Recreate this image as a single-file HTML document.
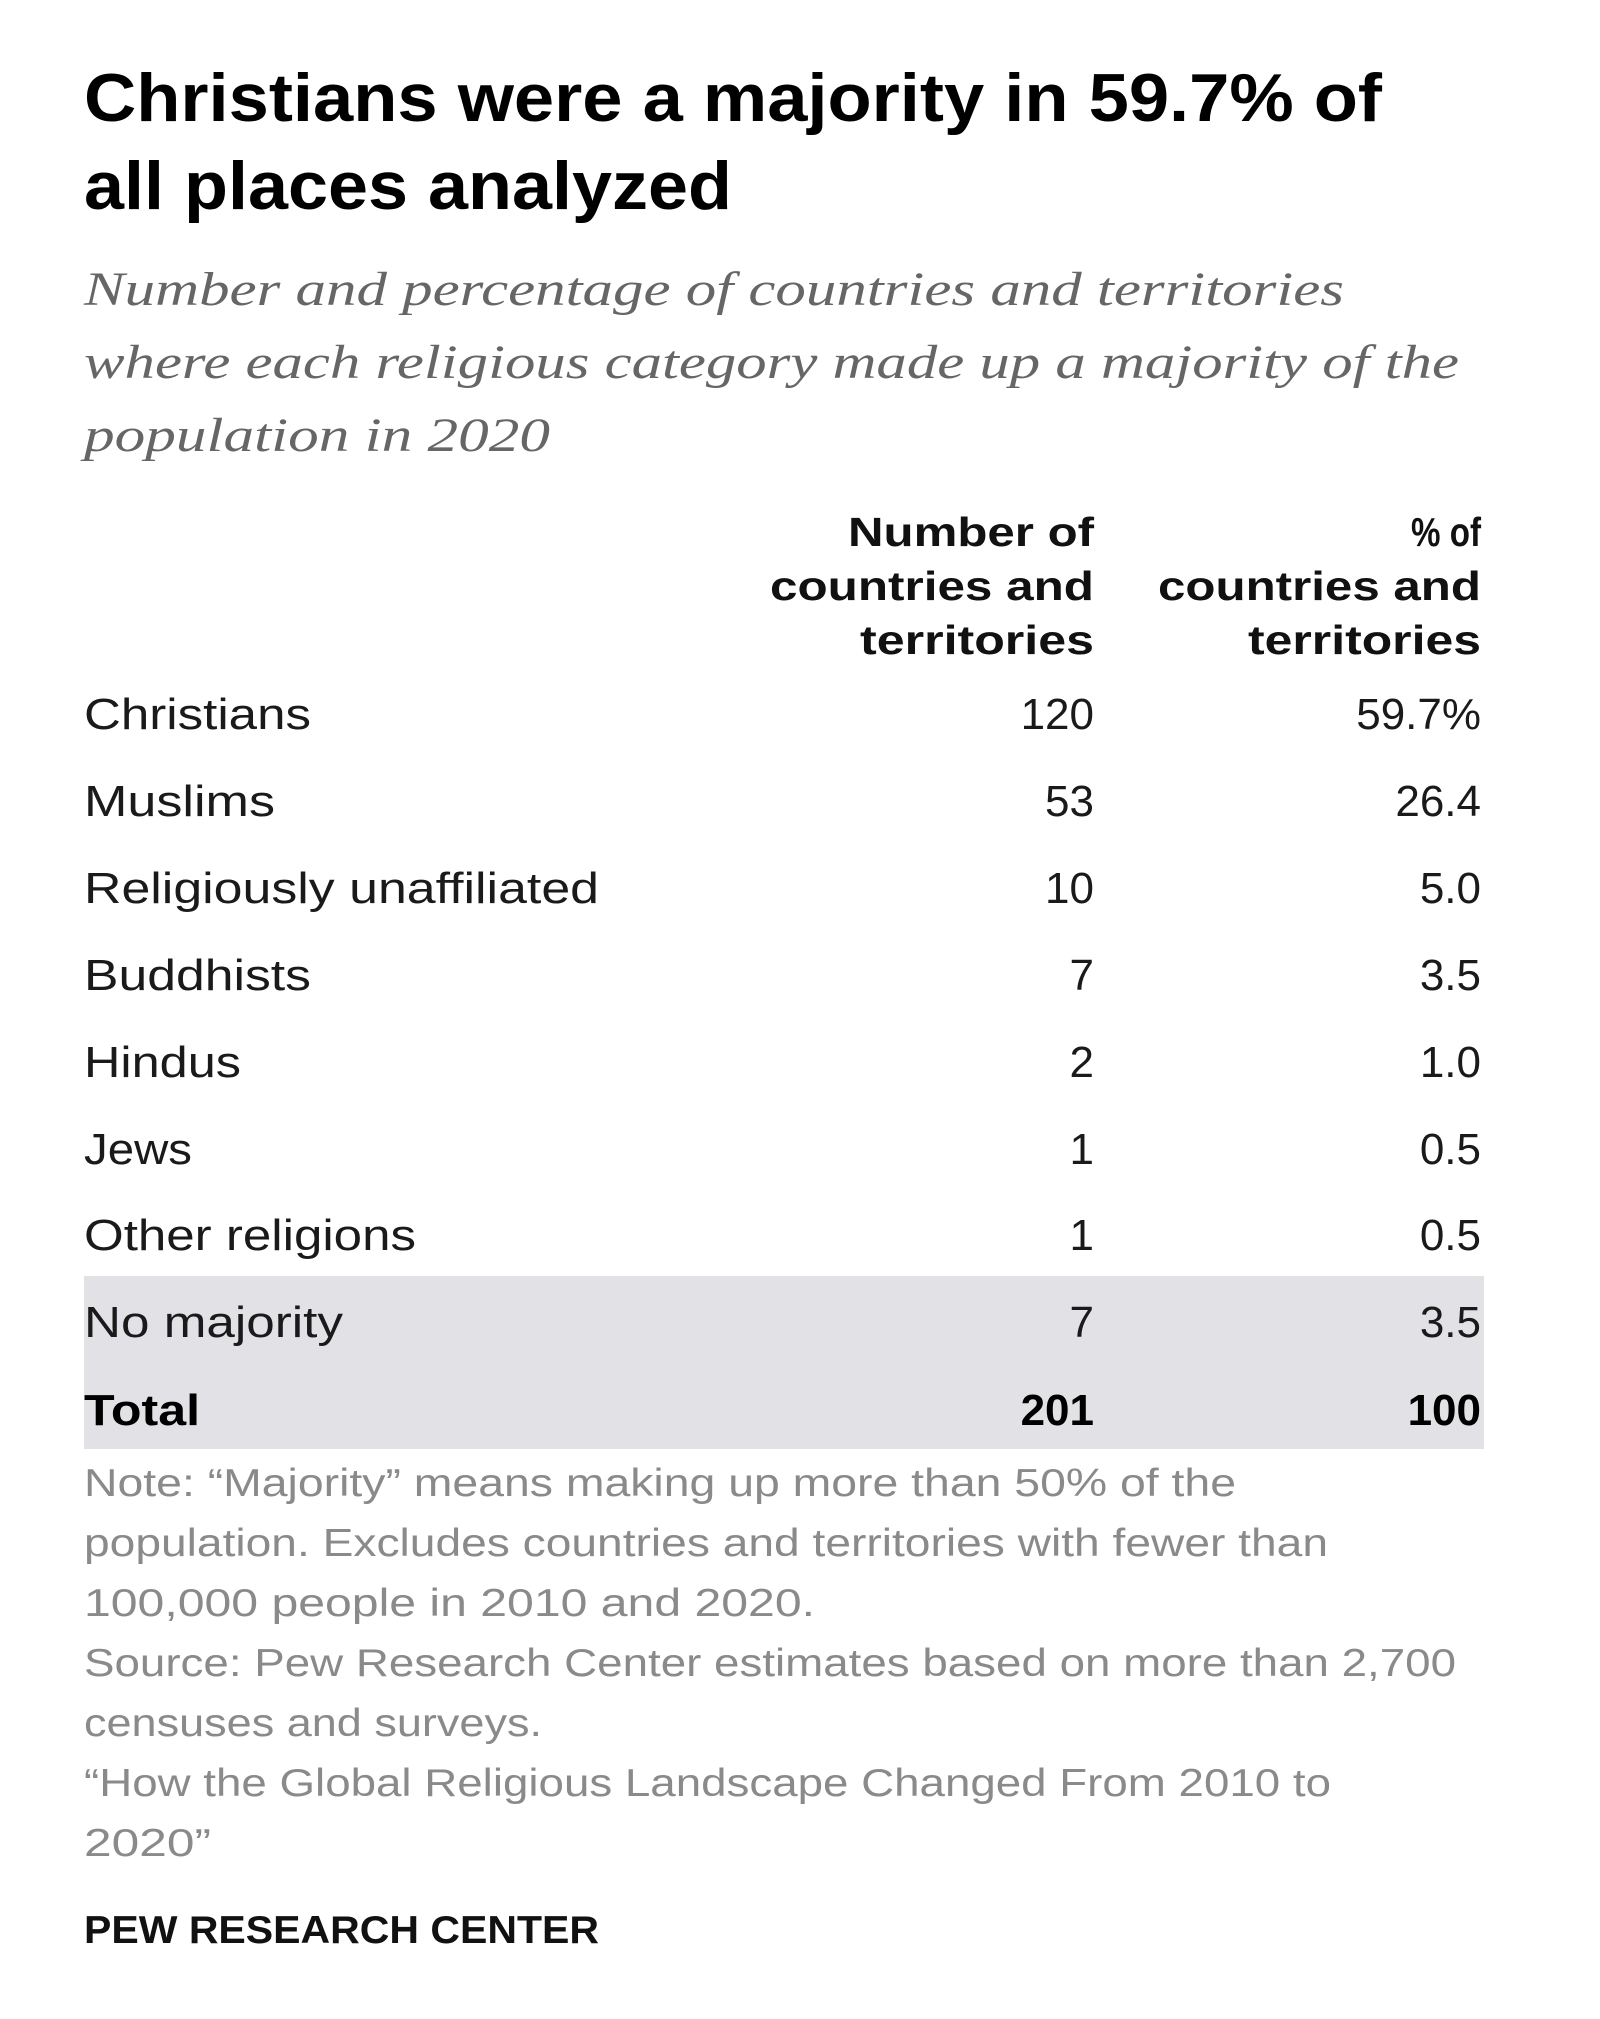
<!DOCTYPE html>
<html><head><meta charset="utf-8"><style>
html,body{margin:0;padding:0;background:#fff;}
svg{display:block}
.t{font-family:"Liberation Sans",sans-serif;font-weight:bold;font-size:68px;fill:#000}
.s{font-family:"Liberation Serif",serif;font-style:italic;font-size:48px;fill:#666}
.h{font-family:"Liberation Sans",sans-serif;font-weight:bold;font-size:41px;fill:#111}
.r{font-family:"Liberation Sans",sans-serif;font-size:44px;fill:#1a1a1a}
.b{font-family:"Liberation Sans",sans-serif;font-weight:bold;font-size:44px;fill:#000}
.n{font-family:"Liberation Sans",sans-serif;font-size:39px;fill:#8a8a8a}
.p{font-family:"Liberation Sans",sans-serif;font-weight:bold;font-size:39px;fill:#111}
</style></head><body>
<svg width="1600" height="2019" viewBox="0 0 1600 2019" xmlns="http://www.w3.org/2000/svg">
<rect width="1600" height="2019" fill="#fff"/>
<g transform="translate(0,6)">
<text class="t" x="84" y="115" textLength="1298" lengthAdjust="spacingAndGlyphs">Christians were a majority in 59.7% of</text>
<text class="t" x="84" y="203" textLength="648" lengthAdjust="spacingAndGlyphs">all places analyzed</text>
<text class="s" x="84" y="299" textLength="1260" lengthAdjust="spacingAndGlyphs">Number and percentage of countries and territories</text>
<text class="s" x="84" y="372" textLength="1375" lengthAdjust="spacingAndGlyphs">where each religious category made up a majority of the</text>
<text class="s" x="84" y="445" textLength="466" lengthAdjust="spacingAndGlyphs">population in 2020</text>

<text class="h" x="848" y="540" textLength="246" lengthAdjust="spacingAndGlyphs">Number of</text>
<text class="h" x="770" y="594" textLength="324" lengthAdjust="spacingAndGlyphs">countries and</text>
<text class="h" x="860" y="648" textLength="234" lengthAdjust="spacingAndGlyphs">territories</text>
<text class="h" x="1411" y="540" textLength="70" lengthAdjust="spacingAndGlyphs">% of</text>
<text class="h" x="1158" y="594" textLength="323" lengthAdjust="spacingAndGlyphs">countries and</text>
<text class="h" x="1248" y="648" textLength="233" lengthAdjust="spacingAndGlyphs">territories</text>

<rect x="84" y="1270" width="1400" height="173" fill="#e2e2e6"/>

<text class="r" x="84" y="723" textLength="227" lengthAdjust="spacingAndGlyphs">Christians</text>
<text class="r" x="1094" y="723" text-anchor="end">120</text><text class="r" x="1481" y="723" text-anchor="end">59.7%</text>
<text class="r" x="84" y="810" textLength="191" lengthAdjust="spacingAndGlyphs">Muslims</text>
<text class="r" x="1094" y="810" text-anchor="end">53</text><text class="r" x="1481" y="810" text-anchor="end">26.4</text>
<text class="r" x="84" y="897" textLength="515" lengthAdjust="spacingAndGlyphs">Religiously unaffiliated</text>
<text class="r" x="1094" y="897" text-anchor="end">10</text><text class="r" x="1481" y="897" text-anchor="end">5.0</text>
<text class="r" x="84" y="984" textLength="227" lengthAdjust="spacingAndGlyphs">Buddhists</text>
<text class="r" x="1094" y="984" text-anchor="end">7</text><text class="r" x="1481" y="984" text-anchor="end">3.5</text>
<text class="r" x="84" y="1071" textLength="157" lengthAdjust="spacingAndGlyphs">Hindus</text>
<text class="r" x="1094" y="1071" text-anchor="end">2</text><text class="r" x="1481" y="1071" text-anchor="end">1.0</text>
<text class="r" x="84" y="1158" textLength="108" lengthAdjust="spacingAndGlyphs">Jews</text>
<text class="r" x="1094" y="1158" text-anchor="end">1</text><text class="r" x="1481" y="1158" text-anchor="end">0.5</text>
<text class="r" x="84" y="1244" textLength="332" lengthAdjust="spacingAndGlyphs">Other religions</text>
<text class="r" x="1094" y="1244" text-anchor="end">1</text><text class="r" x="1481" y="1244" text-anchor="end">0.5</text>
<text class="r" x="84" y="1331" textLength="259" lengthAdjust="spacingAndGlyphs">No majority</text>
<text class="r" x="1094" y="1331" text-anchor="end">7</text><text class="r" x="1481" y="1331" text-anchor="end">3.5</text>
<text class="b" x="84" y="1419" textLength="116" lengthAdjust="spacingAndGlyphs">Total</text>
<text class="b" x="1094" y="1419" text-anchor="end">201</text><text class="b" x="1481" y="1419" text-anchor="end">100</text>

<text class="n" x="84" y="1490" textLength="1152" lengthAdjust="spacingAndGlyphs">Note: “Majority” means making up more than 50% of the</text>
<text class="n" x="84" y="1550" textLength="1244" lengthAdjust="spacingAndGlyphs">population. Excludes countries and territories with fewer than</text>
<text class="n" x="84" y="1610" textLength="731" lengthAdjust="spacingAndGlyphs">100,000 people in 2010 and 2020.</text>
<text class="n" x="84" y="1670" textLength="1372" lengthAdjust="spacingAndGlyphs">Source: Pew Research Center estimates based on more than 2,700</text>
<text class="n" x="84" y="1730" textLength="458" lengthAdjust="spacingAndGlyphs">censuses and surveys.</text>
<text class="n" x="84" y="1790" textLength="1247" lengthAdjust="spacingAndGlyphs">“How the Global Religious Landscape Changed From 2010 to</text>
<text class="n" x="84" y="1850" textLength="127" lengthAdjust="spacingAndGlyphs">2020”</text>

<text class="p" x="84" y="1937" textLength="515" lengthAdjust="spacingAndGlyphs">PEW RESEARCH CENTER</text>
</g>
</svg>
</body></html>
